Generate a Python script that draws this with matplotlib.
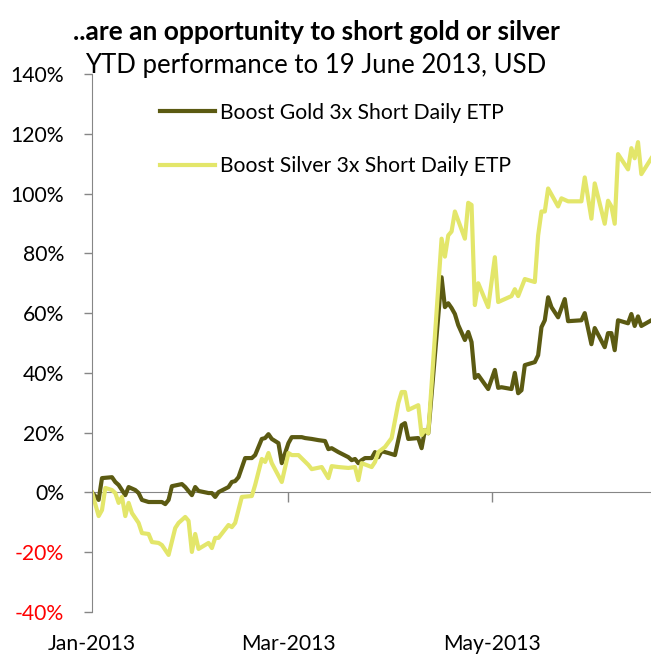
import matplotlib
matplotlib.use("Agg")
import matplotlib.pyplot as plt
import pandas as pd

plt.rcParams['font.family'] = ['Lato', 'DejaVu Sans']

start = pd.Timestamp('2013-01-01')

# days since 1 Jan 2013 and YTD performance (%)
gold_days = [0, 2, 3, 6, 7, 8, 10, 11, 13, 14, 15, 17, 21, 22, 23, 24, 27, 28, 30, 31,
             32, 35, 36, 37, 38, 41, 42, 43, 44, 46, 48, 49, 51, 52, 53, 54, 56, 57, 59, 60,
             63, 64, 66, 68, 70, 71, 72, 74, 77, 78, 79, 80, 81, 82, 84, 85, 86, 87, 89, 91,
             92, 93, 94, 95, 98, 99, 100, 101, 105, 106, 107, 108, 109, 110, 112, 113, 114, 115, 116, 119,
             121, 122, 123, 126, 127, 128, 129, 130, 133, 134, 135, 136, 137, 138, 140, 142, 143, 147, 148, 150,
             151, 154, 155, 156, 157, 158, 161, 162, 163, 164, 165, 168]
gold_vals = [0, -2.5, 4.8, 5.1, 3.5, 2.5, -0.9, 1.8, 0.8, -0.2, -2.5, -3.2, -3.2, -3.9, -2.5, 2.1, 2.8, 1.8, -0.9, 1.8,
             0.5, -0.2, -0.2, -1.5, 0.1, 1.8, 3.5, 3.8, 5.1, 11.5, 11.5, 12.5, 17.9, 18.2, 19.5, 17.9, 16.5, 9.8, 16.5, 18.5,
             18.5, 18.2, 17.9, 17.5, 17.2, 14.5, 14.8, 13.5, 11.8, 10.8, 11.2, 9.8, 10.8, 11.5, 11.5, 13.5, 11.8, 13.8, 13.2, 12.5,
             17.5, 22.5, 23.2, 17.9, 18.2, 14.8, 20.9, 19.8, 72.0, 62.0, 63.3, 61.7, 59.7, 56.0, 51.0, 53.7, 50.3, 38.3, 39.3, 34.6,
             41.0, 35.0, 35.2, 34.6, 40.0, 33.2, 34.2, 42.6, 43.6, 45.9, 55.3, 57.6, 65.3, 62.0, 58.6, 64.7, 57.3, 57.6, 60.0, 49.6,
             55.0, 48.6, 53.3, 53.3, 47.6, 57.6, 56.6, 59.7, 55.7, 58.9, 55.7, 57.6]

silver_days = [0, 2, 3, 4, 6, 7, 8, 9, 10, 11, 12, 14, 15, 17, 18, 20, 21, 23, 25, 26,
               28, 29, 30, 31, 32, 35, 36, 37, 38, 41, 42, 43, 45, 48, 49, 51, 52, 53, 54, 57,
               59, 60, 62, 65, 66, 69, 71, 72, 74, 77, 79, 80, 81, 84, 85, 86, 88, 90, 92, 93,
               94, 95, 98, 99, 100, 101, 105, 106, 107, 108, 109, 112, 113, 114, 115, 116, 119, 121, 122, 126,
               127, 128, 130, 133, 134, 135, 136, 137, 140, 141, 143, 147, 148, 150, 151, 154, 155, 156, 157, 158,
               161, 162, 163, 164, 165, 168]
silver_vals = [0, -7.9, -5.9, 1.5, 0.8, -0.2, -3.5, -1.5, -7.9, -3.5, -6.9, -10.2, -13.6, -13.9, -16.6, -16.9, -17.6, -20.9, -11.9, -10.2,
               -8.2, -9.5, -19.9, -13.9, -18.9, -16.9, -18.6, -15.2, -15.2, -10.9, -11.6, -10.2, -1.5, -1.2, 2.5, 11.2, 10.2, 13.2, 9.8, 3.5,
               13.2, 12.5, 12.5, 9.2, 7.8, 8.5, 4.8, 8.8, 8.5, 8.2, 8.5, 4.1, 9.8, 8.5, 10.2, 13.5, 15.2, 18.2, 29.9, 33.6,
               33.6, 27.6, 29.2, 19.2, 20.9, 19.8, 84.9, 78.9, 86.0, 87.3, 94.0, 84.9, 96.9, 96.2, 62.7, 70.0, 62.0, 78.7, 63.7, 65.7,
               68.0, 65.7, 71.4, 70.4, 86.0, 94.0, 94.0, 101.7, 95.7, 98.4, 97.4, 97.4, 105.4, 91.6, 103.4, 89.9, 97.6, 95.7, 89.9, 113.2,
               108.1, 115.2, 111.8, 117.2, 106.5, 111.8]

gold_dates = start + pd.to_timedelta(gold_days, unit='D')
silver_dates = start + pd.to_timedelta(silver_days, unit='D')

yticks = [-40, -20, 0, 20, 40, 60, 80, 100, 120, 140]
xtick_dates = [pd.Timestamp('2013-01-01'), pd.Timestamp('2013-03-01'), pd.Timestamp('2013-05-01')]
xtick_labels = ['Jan-2013', 'Mar-2013', 'May-2013']

gold_color = '#5b5a12'
silver_color = '#e3e66a'
axis_grey = '#868686'
tick_fs = 15.2

fig = plt.figure(figsize=(6.51, 6.55), dpi=100)
ax = fig.add_axes([92 / 651, 1 - 612 / 655, 559 / 651, 538 / 655])

ax.plot(gold_dates, gold_vals, color=gold_color, lw=3, label='Boost Gold 3x Short Daily ETP')
ax.plot(silver_dates, silver_vals, color=silver_color, lw=3, label='Boost Silver 3x Short Daily ETP')

ax.set_ylim(-40, 140)
ax.set_xlim(start, start + pd.Timedelta(days=167.9))

ax.set_yticks(yticks)
ax.set_yticklabels([f'{v}%' for v in yticks], fontsize=tick_fs)
for lab, v in zip(ax.get_yticklabels(), yticks):
    lab.set_color('#ff0000' if v < 0 else 'black')
ax.tick_params(axis='y', direction='out', length=6, width=1, color=axis_grey, pad=14)

ax.set_xticks(xtick_dates)
ax.set_xticklabels(xtick_labels, fontsize=tick_fs)
ax.tick_params(axis='x', length=0, pad=16)

for s in ['top', 'right', 'bottom']:
    ax.spines[s].set_visible(False)
ax.spines['left'].set_color(axis_grey)

# horizontal axis line at 0% with its own tick marks
frac = (0 - yticks[0]) / (yticks[-1] - yticks[0])
sec = ax.secondary_xaxis(frac)
sec.set_xticks(xtick_dates[1:])
sec.set_xticklabels([])
sec.tick_params(direction='out', length=7, width=1, color=axis_grey)
sec.spines['bottom'].set_color(axis_grey)

leg = ax.legend(loc='upper left', bbox_to_anchor=(0.122, 0.947), frameon=False,
                fontsize=tick_fs, handlelength=2.6, handletextpad=0.25, labelspacing=1.6,
                borderpad=0, borderaxespad=0)

fig.text(316 / 651, 1 - 32 / 655, '..are an opportunity to short gold or silver',
         ha='center', va='center', fontsize=19, fontweight='bold')
fig.text(316 / 651, 1 - 66 / 655, 'YTD performance to 19 June 2013, USD',
         ha='center', va='center', fontsize=18.5)

fig.savefig('out.png', dpi=100)
